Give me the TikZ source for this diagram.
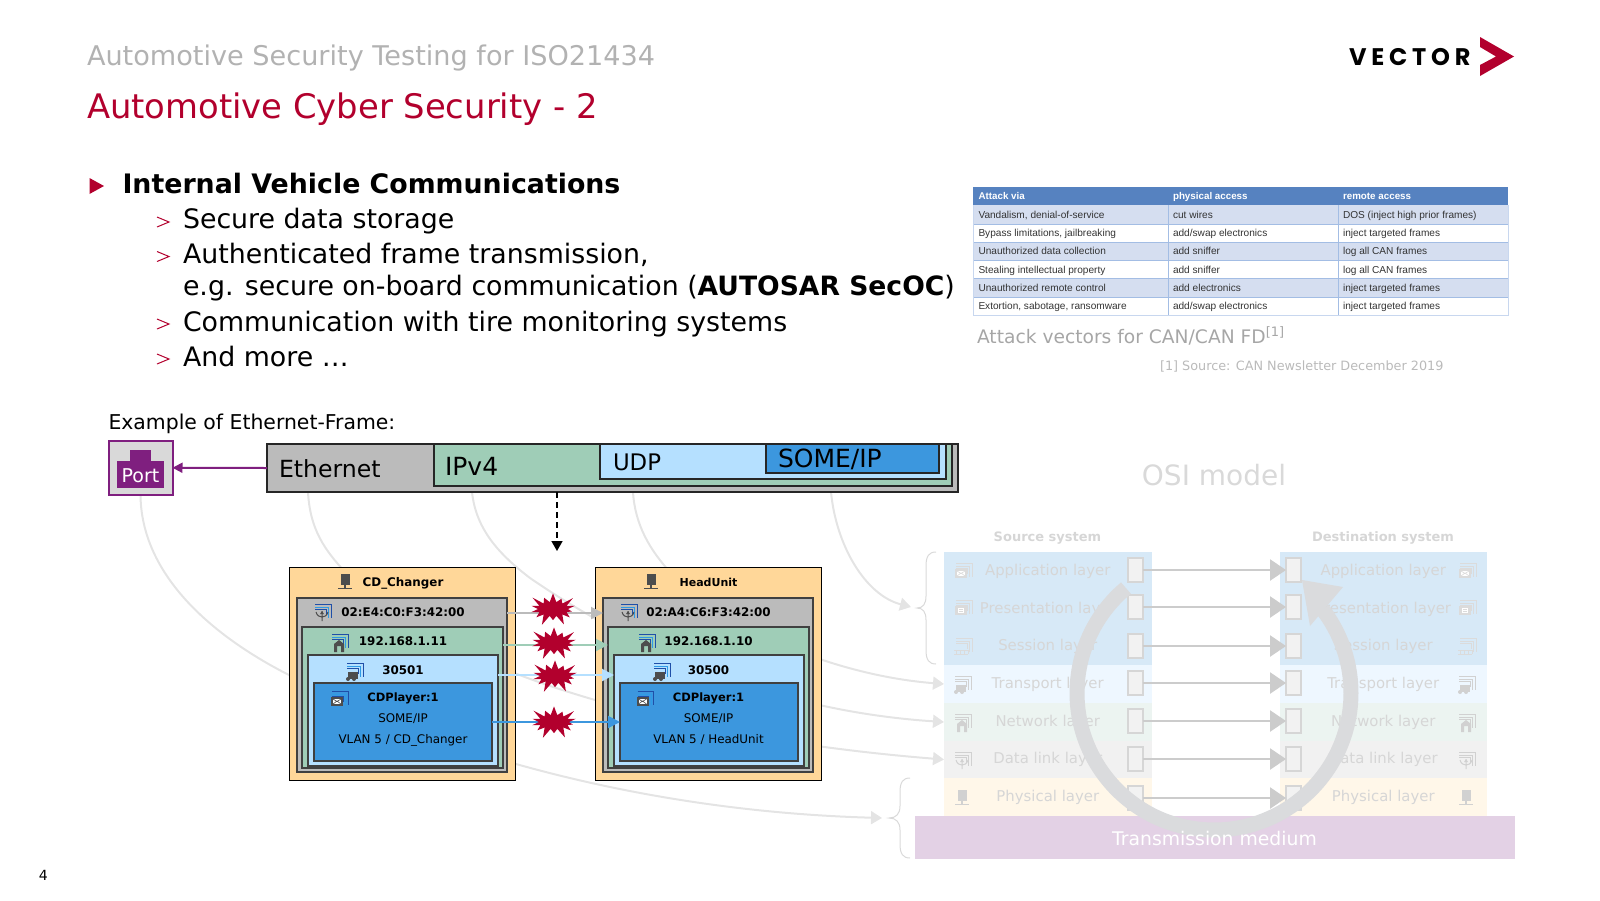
\documentclass[tikz,border=0pt]{standalone}
\usepackage{fontspec}
\setmainfont{DejaVu Sans}
\newfontfamily\arialf{Liberation Sans}
\newfontfamily\logof[LetterSpace=20]{Poppins}
\usetikzlibrary{arrows.meta,shapes.symbols,shapes.geometric}
\definecolor{vred}{HTML}{B2002D}
\definecolor{vpurple}{HTML}{7F1F7F}
\definecolor{lgray}{HTML}{BBBBBB}
\definecolor{lgreen}{HTML}{9FCDB7}
\definecolor{lblue}{HTML}{B5E0FF}
\definecolor{mblue}{HTML}{3C97DE}
\definecolor{lorange}{HTML}{FFD799}
\definecolor{dicon}{HTML}{4D4D4D}
\definecolor{curvec}{HTML}{E4E4E4}
\definecolor{osit}{HTML}{D6D6D6}
\definecolor{hdrblue}{HTML}{5682C0}
\definecolor{bandblue}{HTML}{D5DEF0}
\definecolor{tline}{HTML}{A3BDE4}
\definecolor{rowapp}{HTML}{D7E9F7}
\definecolor{rowtr}{HTML}{EEF7FF}
\definecolor{rownet}{HTML}{ECF4F1}
\definecolor{rowdl}{HTML}{F1F1F1}
\definecolor{rowph}{HTML}{FFF7E9}
\definecolor{rowmed}{HTML}{E3D1E5}
\definecolor{ringc}{HTML}{DADBDD}
\definecolor{icoa}{HTML}{1F4FA8}
\definecolor{icob}{HTML}{2E9BE6}
\newcommand{\fz}[1]{\fontsize{#1}{#1}\selectfont}
\tikzset{
  x=0.5pt,y=-0.5pt,
  lbl/.style={inner sep=0pt,outer sep=0pt,anchor=base west},
  ctr/.style={inner sep=0pt,outer sep=0pt,anchor=base},
  bullettext/.style={lbl,font=\fz{13.4}},
  curve/.style={draw=curvec,line width=1pt},
  curvearrow/.style={curve,-{Triangle[length=5.5pt,width=6.5pt]}},
  framebox/.style={draw=black!85,line width=1pt},
  ecuouter/.style={draw=black,line width=.5pt},
  ecubox/.style={draw=black!75,line width=.6pt},
  burst/.style={starburst,starburst points=14,starburst point height=6pt,fill=vred,draw=none,minimum width=27pt,minimum height=19pt,inner sep=0pt},
  flow/.style={line width=1pt,-{Triangle[length=6pt,width=6pt]}},
  ecutxt/.style={ctr,font=\fz{5.95}\bfseries},
  ecuthin/.style={ctr,font=\fz{5.95}},
  rowbox/.style={inner sep=0pt,outer sep=0pt,text=osit,font=\fz{7.45}},
  layerbox/.style={draw=osit,line width=1pt,fill=black!5,inner sep=0pt,outer sep=0pt,minimum width=7.5pt,minimum height=12pt},
  layerflow/.style={draw=black!20,line width=1.3pt,-{Triangle[length=8pt,width=10.5pt]}},
  brc/.style={draw=black!15,line width=.5pt},
  tcell/.style={lbl,font=\arialf\fz{5.05},text=black!80},
  thead/.style={lbl,font=\arialf\bfseries\fz{4.9},text=white},
}
\newcommand{\bx}[6]{\node[#6,inner sep=0pt,outer sep=0pt,minimum width={(#4-#2)*0.5pt},minimum height={(#5-#3)*0.5pt}] (#1) at ({(#2+#4)/2},{(#3+#5)/2}) {};}
\newcommand{\rowb}[7]{\node[rowbox,fill=#6,minimum width={(#4-#2)*0.5pt},minimum height={(#5-#3)*0.5pt}] (#1) at ({(#2+#4)/2},{(#3+#5)/2}) {\raisebox{-1.3pt}{#7}};}
% icons
\newcommand{\corn}[4]{\begin{scope}[shift={(#1,#2)}]
 \draw[#3,line width=.3pt] (-8,-8.5)--(8,-8.5)--(8,5);
 \draw[#4,line width=.3pt] (-8,-6)--(5.5,-6)--(5.5,5);
 \draw[#3,line width=.3pt] (-8,-3.5)--(3,-3.5)--(3,2);
 \end{scope}}
\newcommand{\icohost}[3]{\begin{scope}[shift={(#1,#2)}]
 \fill[#3] (-4.5,-8) rectangle (4.5,3);
 \fill[#3] (-1,3) rectangle (1,6);
 \draw[#3,line width=.4pt] (-7,6)--(7,6);
 \end{scope}}
\newcommand{\icolink}[5]{\corn{#1+1}{#2}{#4}{#5}\begin{scope}[shift={(#1,#2)}]
 \draw[#3,line width=.5pt] (0,-2)--(0,8) (-6,-1) .. controls (-5,3) and (-2,4) .. (0,4) .. controls (2,4) and (5,3) .. (6,-1);
 \fill[#3] (-2,1) -- (2,1) -- (0,-2) -- cycle;
 \end{scope}}
\newcommand{\icoip}[5]{\corn{#1+1}{#2}{#4}{#5}\begin{scope}[shift={(#1,#2)}]
 \fill[#3] (-5,9) -- (-5,1) -- (0,-3) -- (5,1) -- (5,9) -- (2,9) -- (2,3) -- (-2,3) -- (-2,9) -- cycle;
 \end{scope}}
\newcommand{\icoport}[5]{\corn{#1+1}{#2}{#4}{#5}\begin{scope}[shift={(#1,#2)}]
 \fill[#3] (-6,0) rectangle (4,7);
 \fill[#3] (-6,7) circle (2) (0,7) circle (2);
 \end{scope}}
\newcommand{\icomsg}[5]{\corn{#1+2}{#2}{#4}{#5}\begin{scope}[shift={(#1,#2)}]
 \fill[#3] (-7,-3) rectangle (5,6);
 \fill[white] (-5,-1) rectangle (3,4);
 \draw[#3,line width=.3pt] (-5,-1)--(-1,1.5)--(3,-1) (-5,4)--(-1,1)--(3,4);
 \end{scope}}
\newcommand{\icopres}[4]{\corn{#1+2}{#2}{#4}{#4}\begin{scope}[shift={(#1,#2)}]
 \fill[#3] (-7,-3) rectangle (5,6);
 \fill[white] (-4,-1) rectangle (2,4);
 \draw[#3,line width=.3pt] (-3,.5)--(1,.5) (-3,2.5)--(1,2.5);
 \end{scope}}
\newcommand{\icosess}[4]{\corn{#1+2}{#2}{#4}{#4}\begin{scope}[shift={(#1,#2)}]
 \draw[#3,line width=.5pt] (-8,3)--(6,3) (-8,7)--(6,7);
 \foreach \u in {-6,-2,2,6}{\draw[#3,line width=.5pt] (\u,3)--(\u,7);}
 \end{scope}}
\begin{document}
\begin{tikzpicture}
\useasboundingbox (0,0) rectangle (1600,900);
% headings
\node[lbl,font=\fz{13.56},text=black!30] (t1) at (87,65) {Automotive Security Testing for ISO21434};
\node[lbl,font=\fz{16.9},text=vred] (t2) at (87,118) {Automotive Cyber Security - 2};
% logo
\node[lbl,font=\logof\bfseries\fz{12},text=black] (logo) at (1349,65) {VECTOR};
\fill[vred] (1480,37) -- (1514,56.5) -- (1480,76) -- (1480,65) -- (1496,56.5) -- (1480,47) -- cycle;
% bullets
\fill[vred] (89.5,178) -- (104,186) -- (89.5,194) -- cycle;
\foreach \yy in {222,256.5,324,359}{\draw[vred,line width=.5pt] (157,\yy-5) -- (169,\yy) -- (157,\yy+5);}
\node[bullettext,font=\fz{13.4}\bfseries] (b0) at (122.5,193) {Internal Vehicle Communications};
\node[bullettext] (b1) at (183,228) {Secure data storage};
\node[bullettext] (b2) at (183,263) {Authenticated frame transmission,};
\node[bullettext,font=\fz{13.4}] (b3) at (183,295) {e.g. secure on-board communication ({\fz{13.3}\bfseries AUTOSAR SecOC})};
\node[bullettext] (b4) at (183,331) {Communication with tire monitoring systems};
\node[bullettext] (b5) at (183,366) {And more …};
% table
\fill[hdrblue] (973,187) rectangle (1508,205);
\fill[bandblue] (973,205) rectangle (1508,224);
\fill[bandblue] (973,242) rectangle (1508,260);
\fill[bandblue] (973,278) rectangle (1508,297);
\foreach \yy in {224,242,260,278,297}{\draw[tline,line width=.4pt] (973,\yy)--(1508,\yy);}
\draw[tline!60,line width=.4pt] (973,205) -- (973,315) -- (1508,315) -- (1508,205);
\draw[tline,line width=.4pt] (1168,205)--(1168,315) (1338.5,205)--(1338.5,315);
\node[thead] (ha) at (978.5,199) {Attack via};
\node[thead] (hb) at (1173,199) {physical access};
\node[thead] (hc) at (1343,199) {remote access};
\node[tcell] (r1a) at (978.5,218) {Vandalism, denial-of-service};
\node[tcell] (r1b) at (1173,218) {cut wires};
\node[tcell] (r1c) at (1343,218) {DOS (inject high prior frames)};
\node[tcell] (r2a) at (978.5,236) {Bypass limitations, jailbreaking};
\node[tcell] (r2b) at (1173,236) {add/swap electronics};
\node[tcell] (r2c) at (1343,236) {inject targeted frames};
\node[tcell] (r3a) at (978.5,254) {Unauthorized data collection};
\node[tcell] (r3b) at (1173,254) {add sniffer};
\node[tcell] (r3c) at (1343,254) {log all CAN frames};
\node[tcell] (r4a) at (978.5,273) {Stealing intellectual property};
\node[tcell] (r4b) at (1173,273) {add sniffer};
\node[tcell] (r4c) at (1343,273) {log all CAN frames};
\node[tcell] (r5a) at (978.5,291) {Unauthorized remote control};
\node[tcell] (r5b) at (1173,291) {add electronics};
\node[tcell] (r5c) at (1343,291) {inject targeted frames};
\node[tcell] (r6a) at (978.5,309) {Extortion, sabotage, ransomware};
\node[tcell] (r6b) at (1173,309) {add/swap electronics};
\node[tcell] (r6c) at (1343,309) {inject targeted frames};
\node[lbl,font=\fz{9.33},text=black!35] (capt) at (977,343) {Attack vectors for CAN/CAN FD\raisebox{3.2pt}{\fz{6.5}[1]}};
\node[lbl,font=\fz{6.4},text=black!27] (srcn) at (1160,370) {[1] Source: CAN Newsletter December 2019};
% OSI model
\node[ctr,font=\fz{14},text=black!15] (osi) at (1214,485) {OSI model};
\node[ctr,font=\fz{6.5}\bfseries,text=osit] (srcs) at (1047.5,541) {Source system};
\node[ctr,font=\fz{6.5}\bfseries,text=osit] (dsts) at (1383,541) {Destination system};
\rowb{sa}{944}{552}{1151.5}{590}{rowapp}{Application layer}
\rowb{sp}{944}{590}{1151.5}{628}{rowapp}{Presentation layer}
\rowb{se}{944}{628}{1151.5}{665}{rowapp}{Session layer}
\rowb{st}{944}{665}{1151.5}{703}{rowtr}{Transport layer}
\rowb{sn}{944}{703}{1151.5}{741}{rownet}{Network layer}
\rowb{sd}{944}{741}{1151.5}{778}{rowdl}{Data link layer}
\rowb{sf}{944}{778}{1151.5}{816}{rowph}{Physical layer}
\rowb{da}{1279.5}{552}{1487}{590}{rowapp}{Application layer}
\rowb{dp}{1279.5}{590}{1487}{628}{rowapp}{Presentation layer}
\rowb{de}{1279.5}{628}{1487}{665}{rowapp}{Session layer}
\rowb{dt}{1279.5}{665}{1487}{703}{rowtr}{Transport layer}
\rowb{dn}{1279.5}{703}{1487}{741}{rownet}{Network layer}
\rowb{dd}{1279.5}{741}{1487}{778}{rowdl}{Data link layer}
\rowb{df}{1279.5}{778}{1487}{816}{rowph}{Physical layer}
\foreach \nm/\yy in {1/570,2/607,3/646,4/683,5/721,6/759,7/798}{
  \node[layerbox] (p\nm) at (1135,\yy) {};
  \node[layerbox] (q\nm) at (1293.5,\yy) {};
  \draw[layerflow] (p\nm.east) -- (q\nm.west);
}
\foreach \xx in {962,1466}{
 \icomsg{\xx}{572}{black!14}{black!14}{black!14}
 \icopres{\xx}{609}{black!14}{black!14}
 \icosess{\xx}{647}{black!14}{black!14}
 \icoport{\xx}{685}{black!18}{black!18}{black!18}
 \icoip{\xx}{723}{black!18}{black!18}{black!18}
 \icolink{\xx}{761}{black!18}{black!18}{black!18}
 \icohost{\xx}{798}{black!18}
}
\node[rowbox,fill=rowmed,text=white,minimum width=300pt,minimum height=21.5pt] (medium) at (1215,837.5) {};
% cycle ring
\draw[color=ringc,line width=7.5pt] plot[domain=230:-37.5,samples=90,smooth] ({1214+137*cos(\x)},{693+137*sin(\x)});
\fill[ringc] (1302,580) -- (1343,587) -- (1310,626) -- cycle;
\node[ctr,font=\fz{9.4},text=white] (mediumt) at (1214.5,845) {Transmission medium};
% braces
\coordinate (upbrace) at (911,607);
\coordinate (lowbrace) at (882,818);
\draw[brc] (936,552) .. controls (929,552) and (926,556) .. (926,566) -- (926,596) .. controls (926,604) and (923,608) .. (917,608) .. controls (923,608) and (926,612) .. (926,620) -- (926,650) .. controls (926,660) and (929,664) .. (936,664);
\draw[brc] (910,778) .. controls (903,778) and (900,782) .. (900,792) -- (900,806) .. controls (900,814) and (896,818) .. (889,818) .. controls (896,818) and (900,822) .. (900,830) -- (900,844) .. controls (900,854) and (903,858) .. (910,858);
% curved links behind boxes
\coordinate (fE) at (308,492);
\coordinate (fI) at (472,492);
\coordinate (fU) at (633,492);
\coordinate (fS) at (831,492);
\coordinate (fP) at (140.5,496);
\draw[curvearrow] (fP) .. controls (142,580) and (220,640) .. (289,675) .. controls (390,730) and (600,810) .. (lowbrace);
\draw[curvearrow] (fE) .. controls (310,530) and (325,550) .. (345,572) .. controls (450,680) and (700,740) .. (sd.west);
\draw[curvearrow] (fI) .. controls (476,530) and (500,555) .. (530,578) .. controls (620,640) and (760,710) .. (sn.west);
\draw[curvearrow] (fU) .. controls (635,525) and (650,550) .. (670,572) .. controls (720,625) and (830,675) .. (st.west);
\draw[curvearrow] (fS) .. controls (836,545) and (865,595) .. (upbrace);
% ECU boxes
\bx{ecuA}{289}{567}{515}{780}{ecuouter,fill=lorange}
\bx{ecuAg}{297}{598}{507}{772}{ecubox,fill=lgray}
\bx{ecuAi}{302}{627}{503}{768}{ecubox,fill=lgreen}
\bx{ecuAu}{308}{655}{498}{766}{ecubox,fill=lblue}
\bx{ecuAs}{314}{683}{492}{761}{ecubox,fill=mblue}
\bx{ecuB}{595}{567}{821}{780}{ecuouter,fill=lorange}
\bx{ecuBg}{603}{598}{813}{772}{ecubox,fill=lgray}
\bx{ecuBi}{608}{627}{809}{768}{ecubox,fill=lgreen}
\bx{ecuBu}{614}{655}{804}{766}{ecubox,fill=lblue}
\bx{ecuBs}{620}{683}{798}{761}{ecubox,fill=mblue}
\node[ecutxt] (a0) at (403,586) {CD\_Changer};
\node[ecutxt] (a1) at (403,616) {02:E4:C0:F3:42:00};
\node[ecutxt] (a2) at (403,645) {192.168.1.11};
\node[ecutxt] (a3) at (403,674) {30501};
\node[ecutxt,font=\fz{5.75}\bfseries] (a4) at (403,701) {CDPlayer:1};
\node[ecuthin] (a5) at (403,722) {SOME/IP};
\node[ecuthin] (a6) at (403,743) {VLAN 5 / CD\_Changer};
\node[ecutxt,font=\fz{5.5}\bfseries] (b0x) at (708.5,586) {HeadUnit};
\node[ecutxt] (b1x) at (708.5,616) {02:A4:C6:F3:42:00};
\node[ecutxt] (b2x) at (708.5,645) {192.168.1.10};
\node[ecutxt] (b3x) at (708.5,674) {30500};
\node[ecutxt,font=\fz{5.75}\bfseries] (b4x) at (708.5,701) {CDPlayer:1};
\node[ecuthin] (b5x) at (708.5,722) {SOME/IP};
\node[ecuthin] (b6x) at (708.5,743) {VLAN 5 / HeadUnit};
\foreach \ia/\ib/\ic/\id/\ie in {345/322/339/354/338,651/628/646/661/643.5}{
 \icohost{\ia}{582}{dicon}
 \icolink{\ib}{613}{dicon}{icoa}{icob}
 \icoip{\ic}{643}{dicon}{icoa}{icob}
 \icoport{\id}{672}{dicon}{icoa}{icob}
 \icomsg{\ie}{700}{dicon}{icoa}{icob}
}
% ECU flows
\coordinate (y1) at (553,613);
\coordinate (y2) at (553,645);
\coordinate (y3) at (553,675);
\coordinate (y4) at (553,722);
\draw[flow,draw=lgray] (ecuAg.east |- y1) -- (ecuBg.west |- y1);
\draw[flow,draw=lgreen] (ecuAi.east |- y2) -- (ecuBi.west |- y2);
\draw[flow,draw=lblue] (ecuAu.east |- y3) -- (ecuBu.west |- y3);
\draw[flow,draw=mblue] (ecuAs.east |- y4) -- (ecuBs.west |- y4);
\node[burst] (s1) at (553,609) {};
\node[burst] (s2) at (554,643) {};
\node[burst] (s3) at (555,676) {};
\node[burst] (s4) at (554,722) {};
% frame
\node[lbl,font=\fz{10.2}] (ex) at (108.5,429) {Example of Ethernet-Frame:};
\bx{port}{108.5}{440.5}{172.5}{495}{draw=vpurple,line width=1pt,fill=black!15}
\fill[vpurple] (130,450) rectangle (151,461);
\fill[vpurple] (117,461) rectangle (164,488);
\node[ctr,font=\fz{9.5},text=white] (portt) at (140.5,482) {Port};
\bx{eth}{267}{444}{958}{492}{framebox,fill=lgray}
\bx{ip}{433.5}{444}{952}{486}{framebox,fill=lgreen}
\bx{udp}{599.5}{444}{945.5}{479}{framebox,fill=lblue}
\bx{some}{766}{444}{939}{473}{framebox,fill=mblue}
\node[lbl,font=\fz{11.8}] (etht) at (279,477) {Ethernet};
\node[lbl,font=\fz{12.5}] (ipt) at (445,475) {IPv4};
\node[lbl,font=\fz{11.4}] (udpt) at (613,470) {UDP};
\node[lbl,font=\fz{12.5}] (somet) at (778,467) {SOME/IP};
\draw[vpurple,line width=1pt,-{Triangle[length=5pt,width=5pt]}] (eth.west) -- (port.east);
\coordinate (dn0) at (557,492);
\coordinate (dn1) at (557,551);
\draw[densely dashed,line width=.8pt,-{Triangle[length=5pt,width=5.5pt]}] (dn0) -- (dn1);
% page number
\node[lbl,font=\fz{7}] (pg) at (39,880) {4};
\end{tikzpicture}
\end{document}
